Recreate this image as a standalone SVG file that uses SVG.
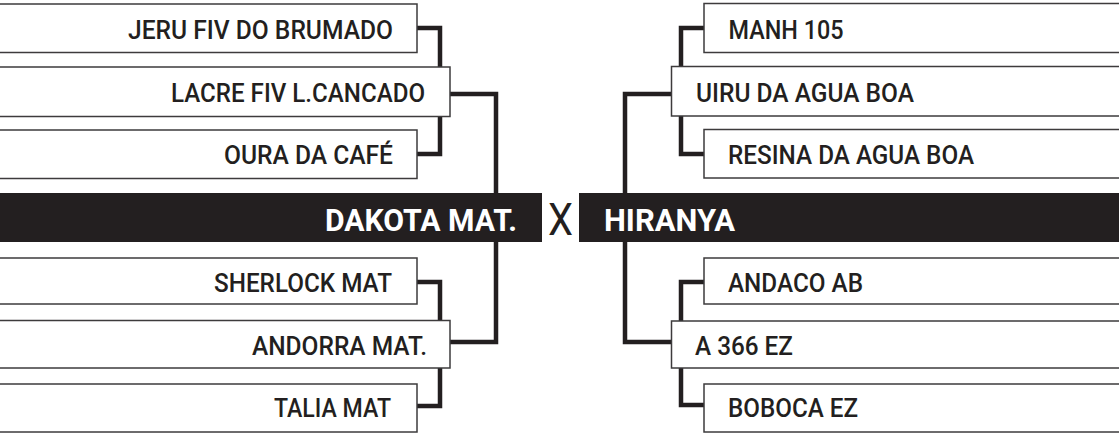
<svg xmlns="http://www.w3.org/2000/svg" width="1119" height="433" viewBox="0 0 1119 433">
  <style>
    .box { fill: #ffffff; stroke: #3d3b3c; stroke-width: 1.5; }
    .bar { fill: #231f20; }
    .lbl { font-family: Roboto, "Liberation Sans", sans-serif; font-size: 25px; font-weight: 500; fill: #231f20; }
    .r { text-anchor: end; }
    .big { font-family: Roboto, "Liberation Sans", sans-serif; font-size: 31px; font-weight: bold; fill: #ffffff; }
    .vs { font-family: Roboto, "Liberation Sans", sans-serif; font-size: 45px; font-weight: normal; fill: #231f20; }
    .conn { fill: none; stroke: #231f20; stroke-width: 4.5; stroke-linejoin: miter; stroke-linecap: butt; }
  </style>
  <rect width="1119" height="433" fill="#ffffff"/>
  <g id="connectors">
    <path class="conn" d="M417,28 H440 V154 H417"/>
    <path class="conn" d="M450,94 H496 V200"/>
    <path class="conn" d="M417,282 H440 V406 H417"/>
    <path class="conn" d="M450,342 H496 V236"/>
    <path class="conn" d="M704,28 H681 V154 H704"/>
    <path class="conn" d="M671,94 H625 V200"/>
    <path class="conn" d="M704,282 H681 V405 H704"/>
    <path class="conn" d="M671,342 H625 V236"/>
  </g>
  <g id="final">
    <rect class="bar" x="-5" y="193" width="547" height="49"/>
    <text class="big r" x="517" y="230.5" textLength="192" lengthAdjust="spacingAndGlyphs">DAKOTA MAT.</text>
    <text class="vs" x="548" y="235" textLength="25" lengthAdjust="spacingAndGlyphs">X</text>
    <rect class="bar" x="579" y="193" width="545" height="49"/>
    <text class="big" x="604" y="230.5" textLength="131" lengthAdjust="spacingAndGlyphs">HIRANYA</text>
  </g>
  <g id="jeru">
    <rect class="box" x="-10" y="4" width="427" height="48.5"/>
    <text class="lbl r" x="393" y="39.3" textLength="265" lengthAdjust="spacingAndGlyphs">JERU FIV DO BRUMADO</text>
  </g>
  <g id="lacre">
    <rect class="box" x="-10" y="67" width="460" height="49.5"/>
    <text class="lbl r" x="425" y="101.7" textLength="254" lengthAdjust="spacingAndGlyphs">LACRE FIV L.CANCADO</text>
  </g>
  <g id="oura">
    <rect class="box" x="-10" y="130" width="427" height="48.5"/>
    <text class="lbl r" x="393" y="164" textLength="169" lengthAdjust="spacingAndGlyphs">OURA DA CAFÉ</text>
  </g>
  <g id="sherlock">
    <rect class="box" x="-10" y="258" width="427" height="46"/>
    <text class="lbl r" x="392" y="291.7" textLength="178" lengthAdjust="spacingAndGlyphs">SHERLOCK MAT</text>
  </g>
  <g id="andorra">
    <rect class="box" x="-10" y="320.5" width="460" height="47.5"/>
    <text class="lbl r" x="427" y="355" textLength="175" lengthAdjust="spacingAndGlyphs">ANDORRA MAT.</text>
  </g>
  <g id="talia">
    <rect class="box" x="-10" y="384" width="427" height="48"/>
    <text class="lbl r" x="391" y="416.7" textLength="117" lengthAdjust="spacingAndGlyphs">TALIA MAT</text>
  </g>
  <g id="manh">
    <rect class="box" x="704" y="3.5" width="425" height="49"/>
    <text class="lbl" x="728.5" y="38.5" textLength="115" lengthAdjust="spacingAndGlyphs">MANH 105</text>
  </g>
  <g id="uiru">
    <rect class="box" x="671.5" y="66.5" width="458" height="49.5"/>
    <text class="lbl" x="696" y="101.5" textLength="218" lengthAdjust="spacingAndGlyphs">UIRU DA AGUA BOA</text>
  </g>
  <g id="resina">
    <rect class="box" x="704" y="129.5" width="425" height="48.5"/>
    <text class="lbl" x="728" y="164" textLength="246" lengthAdjust="spacingAndGlyphs">RESINA DA AGUA BOA</text>
  </g>
  <g id="andaco">
    <rect class="box" x="704" y="258" width="425" height="46"/>
    <text class="lbl" x="728" y="291.5" textLength="135" lengthAdjust="spacingAndGlyphs">ANDACO AB</text>
  </g>
  <g id="a366">
    <rect class="box" x="671.5" y="321" width="458" height="47"/>
    <text class="lbl" x="695" y="355" textLength="98" lengthAdjust="spacingAndGlyphs">A 366 EZ</text>
  </g>
  <g id="boboca">
    <rect class="box" x="704" y="384" width="425" height="48"/>
    <text class="lbl" x="728" y="417" textLength="130" lengthAdjust="spacingAndGlyphs">BOBOCA EZ</text>
  </g>
</svg>
